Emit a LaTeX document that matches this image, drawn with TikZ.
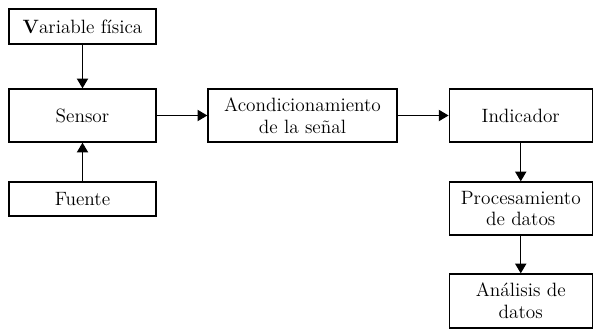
\documentclass[tikz,border=0pt]{standalone}
\usepackage{fontspec}
\usetikzlibrary{arrows.meta}
\begin{document}
\begin{tikzpicture}[x=0.025cm,y=-0.025cm,
  bloque/.style={draw,line width=0.9pt,align=center,inner sep=1pt,
    font=\fontsize{13.7}{15.5}\selectfont},
  flecha/.style={line width=0.9pt,-{Triangle[length=7pt,width=8pt]}}]

\useasboundingbox (0,0) rectangle (593,329);

\begin{scope}[bloque/.append style={minimum width=3.675cm}] % columna del sensor
  \node[bloque,minimum height=0.875cm] (var) at (82.5,26.5)
    {\textbf{V}ariable física};
  \node[bloque,minimum height=1.325cm] (sensor) at (82.5,115.5) {Sensor};
  \node[bloque,minimum height=0.85cm] (fuente) at (82.5,199) {Fuente};
\end{scope}

\begin{scope}[bloque/.append style={minimum height=1.325cm}] % cadena de senal
  \node[bloque,minimum width=4.725cm] (acond) at (302.5,115.5)
    {Acondicionamiento\\de la señal};
  \node[bloque,minimum width=3.575cm] (indic) at (520.75,115.5) {Indicador};
  \node[bloque,minimum width=3.575cm] (proc) at (520.75,208.5)
    {Procesamiento\\de datos};
  \node[bloque,minimum width=3.575cm,minimum height=1.35cm] (anal)
    at (520.75,301) {Análisis de\\datos};
\end{scope}

\begin{scope}[flecha] %conexiones
  \draw (var) -- (sensor);
  \draw (fuente) -- (sensor);
  \draw (sensor) -- (acond);
  \draw (acond) -- (indic);
  \draw (indic) -- (proc);
  \draw (proc) -- (anal);
\end{scope}

\end{tikzpicture}
\end{document}
